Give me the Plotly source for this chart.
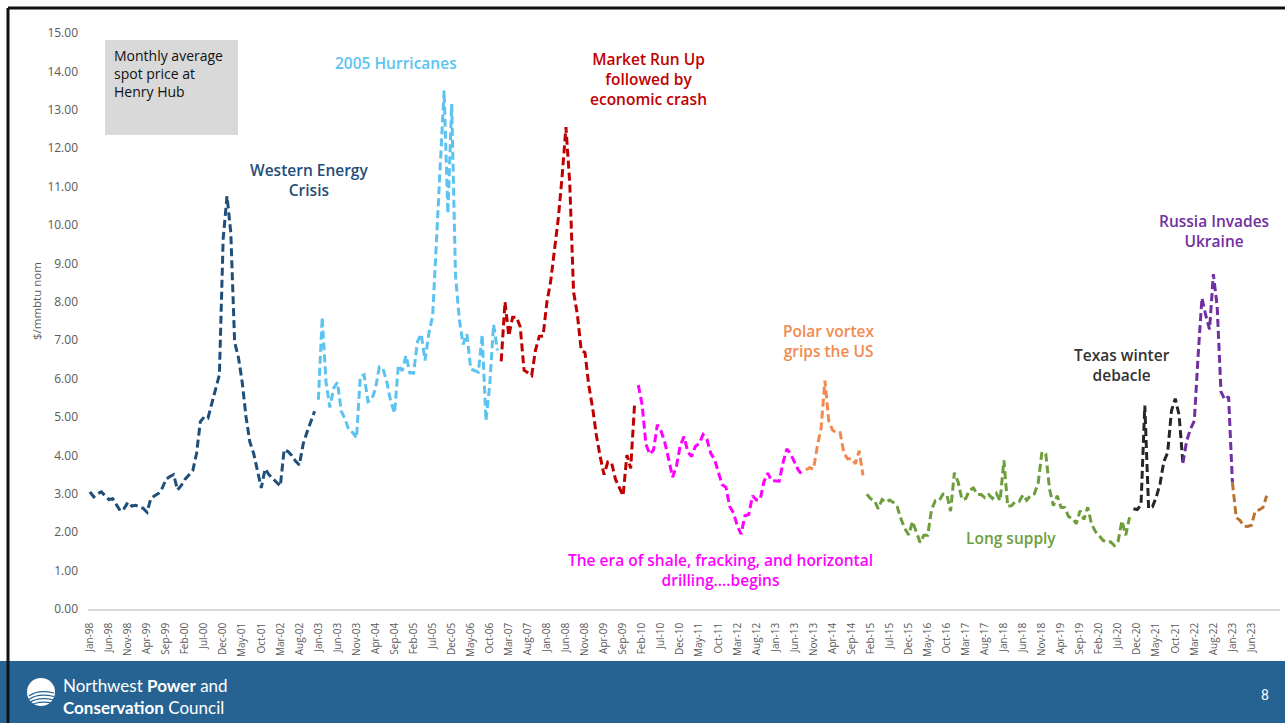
import plotly.graph_objects as go
import pandas as pd

# ---------------- data ----------------
months = pd.date_range("1998-01-01", "2024-01-01", freq="MS").strftime("%b-%y").tolist()
tick_labels = months[0:306:5]

navy_start = "Jan-98"
navy = [3.05, 2.92, 3.00, 3.05, 2.95, 2.85, 2.87, 2.70, 2.55, 2.62, 2.78, 2.68,
        2.70, 2.66, 2.62, 2.52, 2.88, 2.95, 3.01, 3.15, 3.38, 3.45, 3.50, 3.10,
        3.22, 3.38, 3.48, 3.60, 4.05, 4.88, 5.00, 4.97, 5.35, 5.75, 6.10, 9.65,
        10.75, 9.80, 6.95, 6.55, 5.90, 5.00, 4.35, 4.05, 3.60, 3.15, 3.65, 3.50,
        3.40, 3.30, 3.20, 4.15, 4.10, 4.00, 3.85, 3.75, 4.30, 4.60, 4.90, 5.15]

lightblue_start = "Jan-03"
lightblue = [5.45, 7.60, 5.90, 5.25, 5.75, 5.90, 5.15, 4.95, 4.65, 4.60, 4.45, 6.05,
             6.10, 5.40, 5.45, 5.75, 6.30, 6.25, 5.90, 5.40, 5.10, 6.35, 6.20, 6.60,
             6.15, 6.14, 6.96, 7.16, 6.47, 7.18, 7.63, 9.53, 11.75, 13.50, 10.30, 13.15,
             8.69, 7.54, 6.89, 7.16, 6.25, 6.21, 6.17, 7.14, 4.90, 5.85, 7.41, 6.73]

red_start = "Jan-07"
red = [6.45, 8.00, 7.11, 7.60, 7.60, 7.35, 6.22, 6.15, 6.08, 6.74, 7.10, 7.11,
       7.99, 8.54, 9.41, 10.18, 11.27, 12.55, 11.09, 8.26, 7.67, 6.74, 6.68, 5.82,
       5.24, 4.52, 3.96, 3.50, 3.83, 3.80, 3.38, 3.14, 2.95, 4.01, 3.66, 5.30]

magenta_start = "Jan-10"
magenta = [5.83, 5.32, 4.29, 4.03, 4.14, 4.80, 4.63, 4.32, 3.89, 3.43, 3.71, 4.25,
           4.49, 4.09, 3.97, 4.24, 4.31, 4.54, 4.42, 4.06, 3.90, 3.57, 3.24, 3.17,
           2.67, 2.50, 2.17, 1.95, 2.43, 2.46, 2.95, 2.84, 2.85, 3.32, 3.54, 3.34,
           3.33, 3.33, 3.81, 4.17, 4.04, 3.83, 3.62, 3.50]

orange_start = "Sep-13"
orange = [3.62, 3.68, 3.64, 4.24,
          4.71, 5.95, 4.90, 4.66, 4.58, 4.59, 4.05, 3.91, 3.92, 3.78, 4.12, 3.48]

green_start = "Jan-15"
green = [2.99, 2.87, 2.83, 2.61, 2.85, 2.78, 2.84, 2.77, 2.66, 2.34, 2.09, 1.93,
         2.28, 1.99, 1.73, 1.92, 1.92, 2.59, 2.82, 2.82, 2.99, 2.98, 2.55, 3.55,
         3.30, 2.85, 2.88, 3.10, 3.15, 2.98, 2.98, 2.90, 2.98, 2.88, 3.01, 2.82,
         3.87, 2.67, 2.69, 2.80, 2.80, 2.97, 2.83, 2.96, 3.00, 3.28, 4.09, 4.04,
         3.11, 2.69, 2.95, 2.65, 2.64, 2.40, 2.37, 2.22, 2.56, 2.33, 2.65, 2.22,
         2.02, 1.91, 1.79, 1.74, 1.75, 1.65, 1.77, 2.30, 1.92, 2.39]

black_start = "Nov-20"
black = [2.61, 2.59, 2.71, 5.30, 2.62, 2.66, 2.91, 3.26, 3.84, 4.07, 5.16, 5.48, 5.05, 3.80]

purple_start = "Dec-21"
purple = [3.80, 4.38, 4.69, 4.90, 6.60, 8.10, 7.65, 7.28, 8.72, 7.88, 5.66, 5.45, 5.53, 3.30]

brown_start = "Jan-23"
brown = [3.30, 2.38, 2.31, 2.16, 2.15, 2.18, 2.55, 2.58, 2.64, 2.95]

segments = [
    (navy_start, navy, "#1F4E79"),
    (lightblue_start, lightblue, "#5CC3F0"),
    (red_start, red, "#C00000"),
    (magenta_start, magenta, "#FF00FF"),
    (orange_start, orange, "#F28A50"),
    (green_start, green, "#6E9E3C"),
    (black_start, black, "#262626"),
    (purple_start, purple, "#7030A0"),
    (brown_start, brown, "#B87333"),
]

# ---------------- figure ----------------
W, H = 1285, 723
L, R, T, B = 88, 5, 33, 114
PW, PH = W - L - R, H - T - B


def px(x):
    return (x - L) / PW


def py(y):
    return (H - B - y) / PH


fig = go.Figure()
for start, vals, color in segments:
    i0 = months.index(start)
    fig.add_trace(go.Scatter(
        x=list(range(i0, i0 + len(vals))), y=vals, mode="lines",
        line=dict(color=color, width=3, dash="8px,4px"),
        showlegend=False, hoverinfo="skip"))

annots = []
font_a = "Open Sans"
labels = [
    ("Western Energy<br>Crisis", 309, 180.5, "#1F4E79"),
    ("2005 Hurricanes", 396, 63, "#5CC3F0"),
    ("Market Run Up<br>followed by<br>economic crash", 648, 79, "#C00000"),
    ("Polar vortex<br>grips the US", 829, 340.5, "#F28A50"),
    ("Texas winter<br>debacle", 1122, 365, "#333333"),
    ("Russia Invades<br>Ukraine", 1214, 230.5, "#7030A0"),
    ("The era of shale, fracking, and horizontal<br>drilling....begins", 720, 569.5, "#FF00FF"),
    ("Long supply", 1011, 538, "#6E9E3C"),
]
for text, x, y, c in labels:
    annots.append(dict(text=text, x=px(x), y=py(y), xref="paper", yref="paper",
                       xanchor="center", yanchor="middle", showarrow=False,
                       font=dict(family=font_a, size=15.5, color=c, weight=600)))

# grey info box
shapes = [dict(type="rect", xref="paper", yref="paper", x0=px(105), x1=px(238),
               y0=py(135), y1=py(40), fillcolor="#D9D9D9", line=dict(width=0), layer="below")]
annots.append(dict(text="Monthly average<br>spot price at<br>Henry Hub", x=px(112), y=py(44),
                   xref="paper", yref="paper", xanchor="left", yanchor="top", align="left",
                   showarrow=False, font=dict(family=font_a, size=14, color="#111111")))

# y axis title
annots.append(dict(text="$/mmbtu nom", x=px(36), y=py(301), xref="paper", yref="paper",
                   textangle=-90, showarrow=False, xanchor="center", yanchor="middle",
                   font=dict(family=font_a, size=11.5, color="#595959")))

# footer
shapes.append(dict(type="rect", xref="paper", yref="paper", x0=px(0), x1=px(W),
                   y0=py(H), y1=py(661), fillcolor="#266393", line=dict(width=0)))
shapes.append(dict(type="circle", xref="paper", yref="paper", x0=px(27), x1=px(55),
                   y0=py(706), y1=py(678), fillcolor="white", line=dict(width=0)))
for k in range(4):
    yy = 692 + k * 3.5
    shapes.append(dict(type="path", xref="paper", yref="paper",
                       path=f"M {px(29)},{py(yy + 4)} Q {px(38)},{py(yy - 3)} {px(54)},{py(yy + 1)}",
                       line=dict(color="#266393", width=1.2)))
annots.append(dict(text="Northwest <b>Power</b> and<br><b>Conservation</b> Council",
                   x=px(61), y=py(696), xref="paper", yref="paper", xanchor="left",
                   yanchor="middle", align="left", showarrow=False,
                   font=dict(family="Lato", size=17, color="white")))
annots.append(dict(text="8", x=px(1265), y=py(695), xref="paper", yref="paper",
                   xanchor="center", yanchor="middle", showarrow=False,
                   font=dict(family="Roboto", size=14, color="white")))

# slide border
shapes.append(dict(type="line", xref="paper", yref="paper", x0=px(8), x1=px(W),
                   y0=py(8), y1=py(8), line=dict(color="#111111", width=3)))
shapes.append(dict(type="line", xref="paper", yref="paper", x0=px(8), x1=px(8),
                   y0=py(8), y1=py(H), line=dict(color="#111111", width=3)))

fig.update_layout(
    width=W, height=H, autosize=False,
    margin=dict(l=L, r=R, t=T, b=B, pad=0),
    paper_bgcolor="white", plot_bgcolor="white",
    shapes=shapes, annotations=annots,
    xaxis=dict(range=[-0.5, len(months) - 0.5], tickmode="array",
               tickvals=list(range(0, 306, 5)), ticktext=tick_labels,
               tickangle=-90, showgrid=False, zeroline=False,
               showline=True, linecolor="#D9D9D9", linewidth=1.5, ticks="",
               ticklabelstandoff=8,
               tickfont=dict(family=font_a, size=10, color="#595959")),
    yaxis=dict(range=[0, 15], tickmode="linear", tick0=0, dtick=1, tickformat=".2f",
               showgrid=False, zeroline=False, showline=False, ticks="",
               ticklabelstandoff=9,
               tickfont=dict(family=font_a, size=12, color="#595959")),
)

fig.write_html("out.html")
